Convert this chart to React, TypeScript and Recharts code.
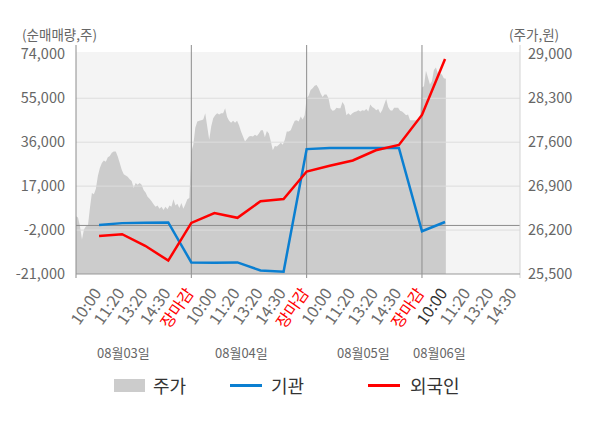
import React from 'react';
import { ComposedChart, Area, Line, XAxis, YAxis, ReferenceLine, CartesianGrid } from 'recharts';

// 주가 (price), sampled evenly across each trading day
const priceDay1 = [26420, 26400, 26260, 26050, 26210, 26260, 26270, 26550, 26790, 26770, 26860, 27060, 27190, 27270, 27310, 27290, 27360, 27380, 27430, 27450, 27450, 27370, 27270, 27160, 27090, 27070, 27050, 27010, 26980, 26870, 26950, 26920, 26950, 26920, 26840, 26800, 26730, 26700, 26660, 26610, 26570, 26590, 26540, 26570, 26520, 26570, 26530, 26590, 26570, 26690, 26590, 26620, 26550, 26630, 26540, 26610, 26690, 26710];
const priceDay2 = [27450, 27560, 27830, 27930, 27940, 27950, 27960, 28060, 27850, 27640, 27850, 27980, 28030, 28060, 28040, 28060, 28060, 28140, 28000, 27940, 27910, 27940, 27910, 27940, 27870, 27770, 27690, 27610, 27650, 27690, 27700, 27690, 27720, 27700, 27740, 27790, 27790, 27680, 27780, 27740, 27610, 27470, 27540, 27530, 27560, 27590, 27560, 27640, 27770, 27770, 27790, 27870, 27940, 27950, 27930, 28010, 27960, 28030];
const priceDay3 = [28300, 28340, 28430, 28460, 28500, 28510, 28460, 28380, 28320, 28360, 28360, 28300, 28140, 28100, 28110, 28150, 28140, 28140, 28240, 28190, 28030, 28060, 28030, 28060, 28080, 28090, 28110, 28090, 28110, 28100, 28130, 28090, 28200, 28160, 28140, 28110, 28130, 28060, 28110, 28200, 28290, 28160, 28110, 28100, 28150, 28150, 28150, 28100, 28090, 28060, 28030, 28040, 27950, 27950, 27950, 27950, 27970, 28010];
const priceDay4 = [28470, 28490, 28740, 28630, 28520, 28570, 28750, 28790, 28700, 28700, 28680, 28620, 28610];
const SAMPLES_PER_DAY = 58;
const SLOTS_PER_DAY = 5;

// 순매매량 (net buying) at the labelled time slots
const flowSlots = [1, 2, 3, 4, 5, 6, 7, 8, 9, 10, 11, 12, 13, 14, 15, 16];
const institution = [200, 1000, 1200, 1300, -16000, -16100, -16000, -19500, -20000, 33000, 33500, 33500, 33500, 33500, -2500, 1500];
const foreign = [-4600, -3800, -8800, -15200, 1100, 5350, 3300, 10500, 11400, 23300, 25800, 28100, 32500, 34800, 47800, 72000];

const tickLabels = ['10:00', '11:20', '13:20', '14:30', '장마감', '10:00', '11:20', '13:20', '14:30', '장마감', '10:00', '11:20', '13:20', '14:30', '장마감', '10:00', '11:20', '13:20', '14:30'];
const currentTick = 16;
const dayLabels = ['08월03일', '08월04일', '08월05일', '08월06일'];
const leftTicks = [-21000, -2000, 17000, 36000, 55000, 74000];
const rightTicks = [25500, 26200, 26900, 27600, 28300, 29000];
const SLOT_MAX = 19.25;

const FONT = "'Noto Sans CJK KR', 'Noto Sans', sans-serif";

const priceData = [priceDay1, priceDay2, priceDay3, priceDay4].flatMap((arr, d) =>
  arr.map((p, i) => ({ s: d * SLOTS_PER_DAY + (i * SLOTS_PER_DAY) / SAMPLES_PER_DAY, price: p }))
);
const flowData = flowSlots.map((s, i) => ({ s, inst: institution[i], foreign: foreign[i] }));
const xTicks = tickLabels.map((_, i) => i + 1);
const separators = [0, 5, 10, 15];

const XTick = (props: any) => {
  const { x, y, payload } = props;
  const idx = payload.value - 1;
  const label = tickLabels[idx] ?? '';
  const color = label === '장마감' ? '#ff0000' : payload.value === currentTick ? '#333333' : '#6b6b6b';
  return (
    <g transform={`translate(${x - 1.5},${y + 8})`}>
      <text textAnchor="end" dy="0.35em" transform="rotate(-55)" fill={color} fontSize={16} fontFamily={FONT}>
        {label}
      </text>
    </g>
  );
};

const tallLine = (color: string) => (p: any) => (
  <line
    x1={p.x1}
    x2={p.x2}
    y1={Math.min(p.y1, p.y2) - 7}
    y2={Math.max(p.y1, p.y2) + 4}
    stroke={color}
    strokeWidth={1}
  />
);

const fmt = (v: number) => v.toLocaleString('en-US');

const textStyle: React.CSSProperties = { position: 'absolute', fontFamily: FONT, whiteSpace: 'nowrap' };

export default function App() {
  return (
    <div style={{ position: 'absolute', left: 0, top: 0, width: 600, height: 428, background: '#fff' }}>
      <ComposedChart width={600} height={428} margin={{ top: 52, right: 0, bottom: 0, left: 0 }}>
        <CartesianGrid fill="#f4f4f4" horizontal={false} vertical={false} yAxisId="left" />
        <XAxis
          type="number"
          dataKey="s"
          domain={[0, SLOT_MAX]}
          ticks={xTicks}
          interval={0}
          allowDataOverflow
          height={154}
          tickLine={false}
          axisLine={{ stroke: '#999999' }}
          tick={<XTick />}
        />
        <YAxis
          yAxisId="left"
          orientation="left"
          width={76}
          domain={[-21000, 75000]}
          ticks={leftTicks}
          interval={0}
          allowDataOverflow
          axisLine={false}
          tickLine={false}
          tickMargin={5}
          tickFormatter={fmt}
          tick={{ fill: '#666666', fontSize: 14.5, fontFamily: FONT }}
        />
        <YAxis
          yAxisId="right"
          orientation="right"
          width={80}
          domain={[25500, 25500 + (3500 * 96) / 95]}
          ticks={rightTicks}
          interval={0}
          allowDataOverflow
          axisLine={false}
          tickLine={false}
          tickFormatter={fmt}
          tick={{ fill: '#666666', fontSize: 14.5, fontFamily: FONT, textAnchor: 'start' }}
        />
        <Area
          yAxisId="right"
          data={priceData}
          dataKey="price"
          type="linear"
          fill="#cccccc"
          fillOpacity={1}
          stroke="none"
          isAnimationActive={false}
        />
        {leftTicks.slice(1, 5).map((v) => (
          <ReferenceLine key={v} yAxisId="left" y={v} stroke="#dddddd" strokeWidth={1} />
        ))}
        <ReferenceLine yAxisId="left" y={0} stroke="#8c8c8c" strokeWidth={1} />
        {separators.map((s) => (
          <ReferenceLine key={s} yAxisId="left" x={s} shape={tallLine('#8c8c8c')} />
        ))}
        <ReferenceLine yAxisId="left" x={SLOT_MAX} shape={tallLine('#d4d4d4')} />
        <Line
          yAxisId="left"
          data={flowData}
          dataKey="inst"
          type="linear"
          stroke="#0b7fd1"
          strokeWidth={2.5}
          dot={false}
          isAnimationActive={false}
        />
        <Line
          yAxisId="left"
          data={flowData}
          dataKey="foreign"
          type="linear"
          stroke="#ff0000"
          strokeWidth={2.5}
          dot={false}
          isAnimationActive={false}
        />
      </ComposedChart>

      <div style={{ ...textStyle, left: 22, top: 24, fontSize: 13.5, color: '#666', lineHeight: '20px' }}>(순매매량,주)</div>
      <div style={{ ...textStyle, left: 509, top: 24, fontSize: 13.5, color: '#666', lineHeight: '20px' }}>(주가,원)</div>

      {dayLabels.map((d, i) => (
        <div
          key={d}
          style={{ ...textStyle, left: [97, 215, 337, 413][i], top: 343, fontSize: 13, color: '#666', lineHeight: '20px' }}
        >
          {d}
        </div>
      ))}

      <div style={{ position: 'absolute', left: 114, top: 379, width: 31, height: 13, background: '#cccccc' }} />
      <div style={{ ...textStyle, left: 153, top: 373, fontSize: 18, color: '#333', lineHeight: '24px' }}>주가</div>
      <div style={{ position: 'absolute', left: 230, top: 384, width: 32, height: 3, background: '#0b7fd1' }} />
      <div style={{ ...textStyle, left: 271, top: 373, fontSize: 18, color: '#333', lineHeight: '24px' }}>기관</div>
      <div style={{ position: 'absolute', left: 368, top: 384, width: 32, height: 3, background: '#ff0000' }} />
      <div style={{ ...textStyle, left: 410, top: 373, fontSize: 18, color: '#333', lineHeight: '24px' }}>외국인</div>
    </div>
  );
}
